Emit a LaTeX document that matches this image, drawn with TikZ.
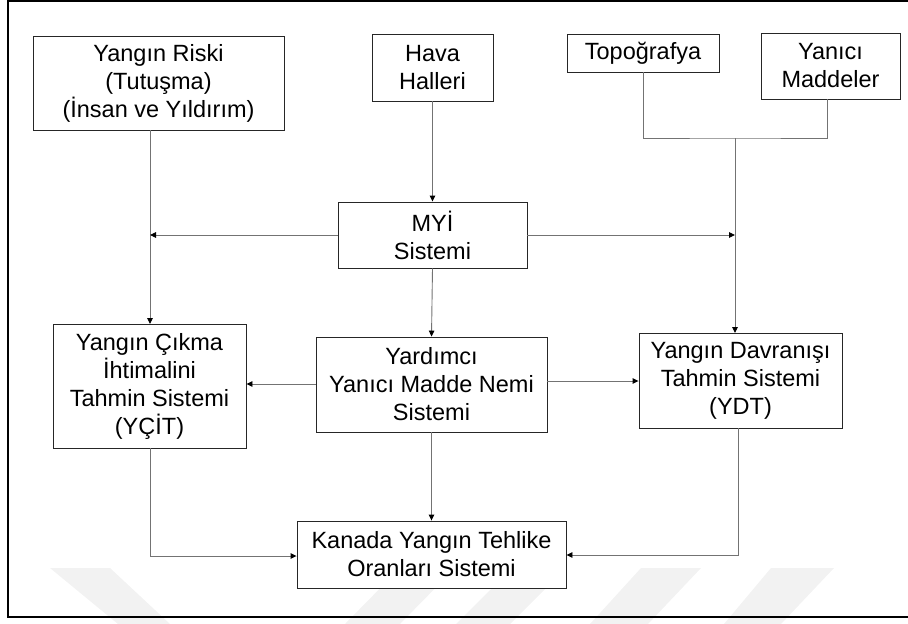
\documentclass[tikz,border=0pt]{standalone}
\usepackage{fontspec}
\setmainfont{Liberation Sans}
\usetikzlibrary{arrows.meta}
\begin{document}
\begin{tikzpicture}[x=1pt,y=-1pt,
  box/.style={draw=black!85, line width=0.9pt, fill=white, align=center,
    inner sep=0pt, font=\fontsize{23.5}{28}\selectfont},
  link/.style={draw=black!55, line width=0.9pt},
  arr/.style={link, -{Triangle[length=6pt,width=5.5pt,color=black]}},
  stripe/.style={fill=black!5, draw=none}]
\useasboundingbox (0,0) rectangle (908,624);

% faint background stripes
\fill[stripe] (50,568) -- (110,568) -- (170,624) -- (118,624) -- cycle;
\fill[stripe] (400,568) -- (455,568) -- (400,624) -- (345,624) -- cycle;
\fill[stripe] (512,568) -- (566,568) -- (510,624) -- (456,624) -- cycle;
\fill[stripe] (641,568) -- (701,568) -- (648,624) -- (590,624) -- cycle;
\fill[stripe] (771,568) -- (834,568) -- (781,624) -- (724,624) -- cycle;

% outer frame
\draw[line width=2.3pt, black] (908,1) -- (8,1) -- (8,617) -- (908,617);

% boxes
\node[box, minimum width=251pt, minimum height=94pt] (riski) at (158.5,83)
  {Yangın Riski\\(Tutuşma)\\(İnsan ve Yıldırım)};
\node[box, minimum width=121pt, minimum height=67pt] (hava) at (432.5,67.5)
  {Hava\\Halleri};
\node[box, minimum width=152pt, minimum height=38pt] (topo) at (643,53)
  {Topoğrafya};
\node[box, minimum width=139pt, minimum height=66pt] (yanici) at (830.5,66)
  {Yanıcı\\Maddeler};
\node[box, minimum width=189pt, minimum height=66pt] (myi) at (432.5,235)
  {MYİ\\Sistemi};
\node[box, minimum width=193pt, minimum height=124pt] (ycit) at (149.5,386)
  {Yangın Çıkma\\İhtimalini\\Tahmin Sistemi\\(YÇİT)};
\node[box, minimum width=231pt, minimum height=95pt] (yard) at (431.5,384.5)
  {Yardımcı\\Yanıcı Madde Nemi\\Sistemi};
\node[box, minimum width=203pt, minimum height=95pt] (ydt) at (740.5,380.5)
  {Yangın Davranışı\\Tahmin Sistemi\\(YDT)};
\node[box, minimum width=269pt, minimum height=67pt] (kanada) at (431.5,554.5)
  {Kanada Yangın Tehlike\\Oranları Sistemi};

% helper points
\coordinate (riskiOut) at (150,130);
\coordinate (ycitIn) at (150,324);
\coordinate (topoOut) at (643,72);
\coordinate (yaniciOut) at (827,99);
\coordinate (join) at (735,138);
\coordinate (ydtIn) at (735,333);
\coordinate (ycitOut) at (150,448);
\coordinate (ydtOut) at (738,428);

% connectors
\draw[arr] (riskiOut) -- (ycitIn);
\draw[arr] (hava.south) -- (myi.north);
\draw[arr] (myi.west) -- (myi.west -| ycitIn);
\draw[arr] (myi.east) -- (myi.east -| join);
\draw[link] (topoOut) |- (join) -| (yaniciOut);
\draw[arr] (join) -- (ydtIn);
\draw[arr] (myi.south) -- (yard.north);
\draw[arr] (yard.west |- 0,384) -- (ycit.east |- 0,384);
\draw[arr] (yard.east |- 0,381) -- (ydt.west |- 0,381);
\draw[arr] (yard.south) -- (kanada.north);
\draw[arr] (ycitOut) |- (kanada.west |- 0,556);
\draw[arr] (ydtOut) |- (kanada.east |- 0,555);
\end{tikzpicture}
\end{document}
